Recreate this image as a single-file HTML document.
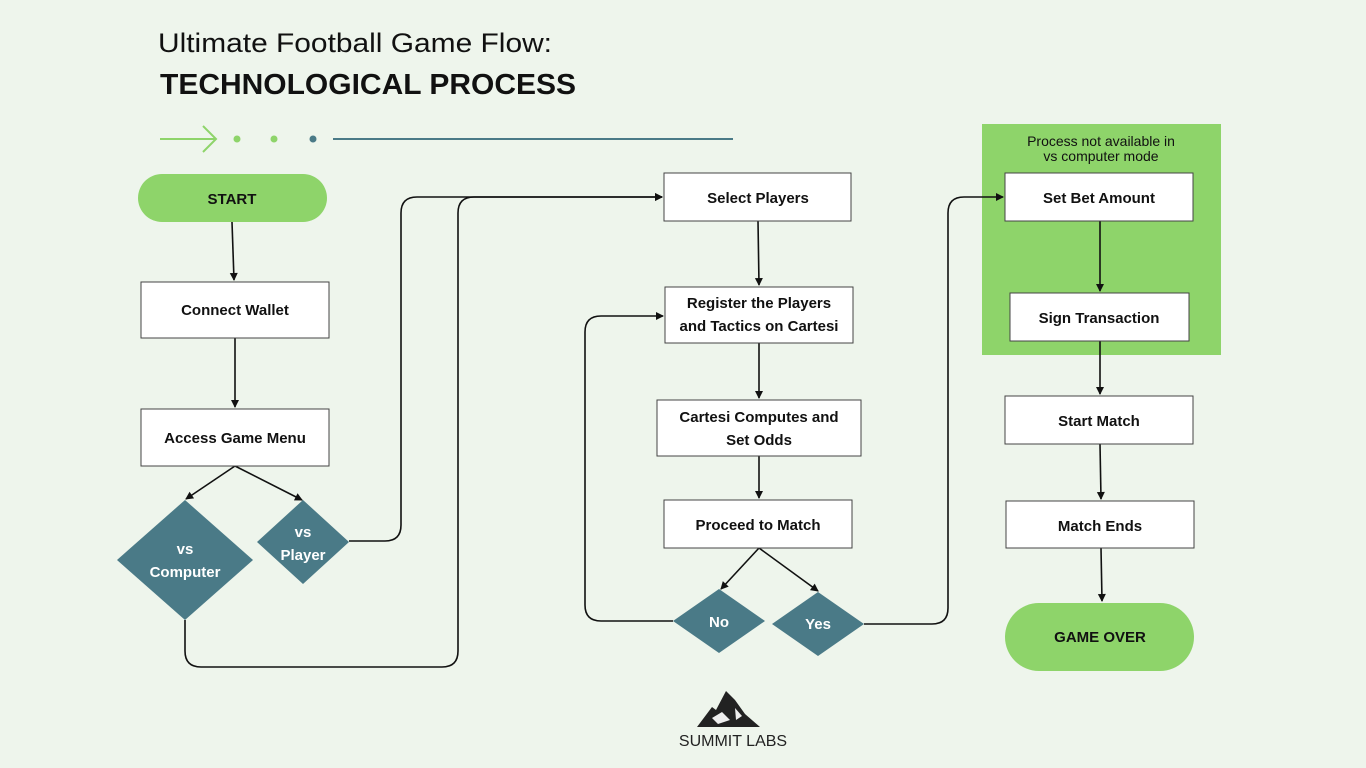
<!DOCTYPE html>
<html><head><meta charset="utf-8"><style>
html,body{margin:0;padding:0;background:#eef5ec;}
svg{display:block;font-family:"Liberation Sans",sans-serif;}
</style></head><body>
<svg width="1366" height="768" viewBox="0 0 1366 768" xmlns="http://www.w3.org/2000/svg">
<defs><marker id="a" markerWidth="10" markerHeight="10" refX="8" refY="5" orient="auto" markerUnits="userSpaceOnUse"><path d="M1,1 L9,5 L1,9 z" fill="#111"/></marker></defs>
<rect width="1366" height="768" fill="#eef5ec"/>
<text x="158" y="52" font-size="27" fill="#111" textLength="394" lengthAdjust="spacingAndGlyphs">Ultimate Football Game Flow:</text>
<text x="160" y="94" font-size="29" font-weight="bold" fill="#111" textLength="416" lengthAdjust="spacingAndGlyphs">TECHNOLOGICAL PROCESS</text>
<g stroke="#8ed46a" stroke-width="2" fill="none"><path d="M160,139 H216 M203,126 L216,139 L203,152"/></g>
<circle cx="237" cy="139" r="3.5" fill="#8ed46a"/><circle cx="274" cy="139" r="3.5" fill="#8ed46a"/><circle cx="313" cy="139" r="3.5" fill="#4a7a87"/>
<line x1="333" y1="139" x2="733" y2="139" stroke="#4a7a87" stroke-width="2"/>
<rect x="982" y="124" width="239" height="231" fill="#8ed46a"/>
<text x="1101" y="146" font-size="14" text-anchor="middle" fill="#111">Process not available in</text>
<text x="1101" y="161" font-size="14" text-anchor="middle" fill="#111">vs computer mode</text>
<g fill="none" stroke="#111" stroke-width="1.6">
<path d="M232,222 L234,280" marker-end="url(#a)"/>
<path d="M235,338 V407" marker-end="url(#a)"/>
<path d="M235,466 L186,499" marker-end="url(#a)"/>
<path d="M235,466 L302,500" marker-end="url(#a)"/>
<path d="M349,541 H385 Q401,541 401,525 V213 Q401,197 417,197 H662" marker-end="url(#a)"/>
<path d="M185,620 V651 Q185,667 201,667 H442 Q458,667 458,651 V213 Q458,197 474,197 H662" marker-end="url(#a)"/>
<path d="M758,221 L759,285" marker-end="url(#a)"/>
<path d="M759,343 V398" marker-end="url(#a)"/>
<path d="M759,456 V498" marker-end="url(#a)"/>
<path d="M759,548 L721,589" marker-end="url(#a)"/>
<path d="M759,548 L818,591" marker-end="url(#a)"/>
<path d="M673,621 H601 Q585,621 585,605 V332 Q585,316 601,316 H663" marker-end="url(#a)"/>
<path d="M864,624 H932 Q948,624 948,608 V213 Q948,197 964,197 H1003" marker-end="url(#a)"/>
<path d="M1100,221 V291" marker-end="url(#a)"/>
<path d="M1100,341 V394" marker-end="url(#a)"/>
<path d="M1100,444 L1101,499" marker-end="url(#a)"/>
<path d="M1101,548 L1102,601" marker-end="url(#a)"/>
</g>
<g fill="#8ed46a"><rect x="138" y="174" width="189" height="48" rx="24"/><rect x="1005" y="603" width="189" height="68" rx="34"/></g>
<g fill="#fff" stroke="#444" stroke-width="1">
<rect x="141" y="282" width="188" height="56"/><rect x="141" y="409" width="188" height="57"/>
<rect x="664" y="173" width="187" height="48"/><rect x="665" y="287" width="188" height="56"/>
<rect x="657" y="400" width="204" height="56"/><rect x="664" y="500" width="188" height="48"/>
<rect x="1005" y="173" width="188" height="48"/><rect x="1010" y="293" width="179" height="48"/>
<rect x="1005" y="396" width="188" height="48"/><rect x="1006" y="501" width="188" height="47"/>
</g>
<g fill="#4a7a87">
<path d="M185,500 L253,560 L185,620 L117,560 z"/>
<path d="M303,500 L349,542 L303,584 L257,542 z"/>
<path d="M719,589 L765,621 L719,653 L673,621 z"/>
<path d="M818,592 L864,624 L818,656 L772,624 z"/>
</g>
<g font-size="15" font-weight="bold" fill="#111" text-anchor="middle">
<text x="232" y="204">START</text><text x="1100" y="642">GAME OVER</text>
<text x="235" y="315">Connect Wallet</text><text x="235" y="443">Access Game Menu</text>
<text x="758" y="203">Select Players</text>
<text x="759" y="308">Register the Players</text><text x="759" y="331">and Tactics on Cartesi</text>
<text x="759" y="422">Cartesi Computes and</text><text x="759" y="445">Set Odds</text>
<text x="758" y="530">Proceed to Match</text>
<text x="1099" y="203">Set Bet Amount</text><text x="1099" y="323">Sign Transaction</text>
<text x="1099" y="426">Start Match</text><text x="1100" y="531">Match Ends</text>
</g>
<g font-size="15" font-weight="bold" fill="#fff" text-anchor="middle">
<text x="185" y="554">vs</text><text x="185" y="577">Computer</text>
<text x="303" y="537">vs</text><text x="303" y="560">Player</text>
<text x="719" y="627">No</text><text x="818" y="629">Yes</text>
</g>
<path d="M697,727 L712,707 L716,710 L726,691 L735,700 L745,714 L760,727 z" fill="#222"/>
<path d="M712,718 L722,712 L730,720 L718,724 z M735,708 L742,716 L736,720 z" fill="#eee"/>
<text x="733" y="746" font-size="16" text-anchor="middle" fill="#222">SUMMIT LABS</text>
</svg>
</body></html>
